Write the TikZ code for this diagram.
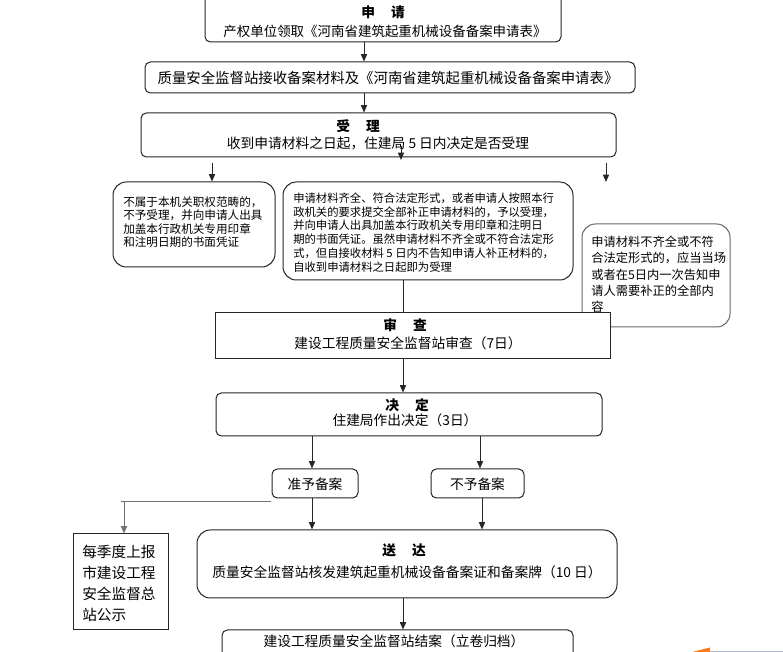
\documentclass[tikz,border=0pt]{standalone}
\usepackage{fontspec}
\setmainfont{Noto Sans CJK SC}
\usetikzlibrary{arrows.meta}
\tikzset{
  ln/.style={draw=black!85, line width=0.75pt},
  bx/.style={ln, fill=white, inner sep=0pt, rectangle},
  rb/.style={bx, rounded corners=4pt},
  rbig/.style={bx, rounded corners=10pt},
  arr/.style={ln, -{Triangle[length=5.5pt,width=4.6pt]}},
  gln/.style={draw=black!55, line width=0.75pt},
  garr/.style={gln, -{Triangle[length=5.5pt,width=4.6pt]}},
  txt/.style={inner sep=0pt, font=\fontsize{10.3}{12}\selectfont},
  ttl/.style={inner sep=0pt, font=\fontsize{10.3}{12}\selectfont\bfseries},
  para/.style={inner sep=0pt, anchor=west, align=left},
}
\begin{document}
\begin{tikzpicture}[x=0.75pt,y=-0.75pt]
\useasboundingbox (0,0) rectangle (783,652);
\clip (0,0) rectangle (783,652);
\fill[white] (0,0) rectangle (783,652);

% boxes
\node[rb, minimum width=267pt, minimum height=37.5pt] (b1) at (383,17) {};
\node[ttl] (t1a) at (383,12) {申\hspace{12pt}请};
\node[txt, font=\fontsize{10.1}{12}\selectfont] (t1b) at (385,31) {产权单位领取《河南省建筑起重机械设备备案申请表》};

\node[rb, minimum width=367.5pt, minimum height=23.25pt] (b2) at (390,77.5) {};
\node[txt, font=\fontsize{10.8}{12}\selectfont] (t2) at (388,78) {质量安全监督站接收备案材料及《河南省建筑起重机械设备备案申请表》};

\node[rb, minimum width=356.25pt, minimum height=33pt] (b3) at (378.5,135) {};
\node[ttl] (t3a) at (358,126) {受\hspace{12pt}理};
\node[txt] (t3b) at (378,143) {收到申请材料之日起，住建局 5 日内决定是否受理};

\node[rbig, minimum width=121.5pt, minimum height=63.75pt] (b4) at (194,224.5) {};
\node[para, font=\fontsize{8.7}{10}\selectfont] (t4) at (123,222) {不属于本机关职权范畴的，\\不予受理，并向申请人出具\\加盖本行政机关专用印章\\和注明日期的书面凭证};

\node[rbig, minimum width=217.5pt, minimum height=73.5pt] (b5) at (428,231) {};
\node[para, font=\fontsize{8.5}{10.35}\selectfont] (t5) at (293,232.5) {申请材料齐全、符合法定形式，或者申请人按照本行\\政机关的要求提交全部补正申请材料的，予以受理，\\并向申请人出具加盖本行政机关专用印章和注明日\\期的书面凭证。虽然申请材料不齐全或不符合法定形\\式，但自接收材料 5 日内不告知申请人补正材料的，\\自收到申请材料之日起即为受理};

\node[rbig, draw=black!60, minimum width=111pt, minimum height=77.25pt] (b6) at (656,275.5) {};
\node[para, font=\fontsize{9.2}{12.2}\selectfont] (t6) at (591,274.5) {申请材料不齐全或不符\\合法定形式的，应当当场\\或者在5日内一次告知申\\请人需要补正的全部内\\容};

\node[bx, minimum width=296.25pt, minimum height=34.5pt] (b7) at (412.5,336) {};
\node[ttl] (t7a) at (405,325) {审\hspace{12pt}查};
\node[txt] (t7b) at (408,343) {建设工程质量安全监督站审查（7日）};

\node[rb, minimum width=289.5pt, minimum height=32.25pt] (b8) at (409,414.5) {};
\node[ttl] (t8a) at (407,405) {决\hspace{12pt}定};
\node[txt] (t8b) at (405,420) {住建局作出决定（3日）};

\node[rb, minimum width=64.5pt, minimum height=21.75pt] (b9) at (315,483.5) {};
\node[txt] (t9) at (315,484) {准予备案};
\node[rb, minimum width=69.75pt, minimum height=21.75pt] (b10) at (477.5,483.5) {};
\node[txt] (t10) at (477.5,484) {不予备案};

\node[bx, minimum width=71.25pt, minimum height=72pt] (mq) at (120.5,582) {};
\node[para, font=\fontsize{11}{15.75}\selectfont] (tmq) at (82,583.5) {每季度上报\\市建设工程\\安全监督总\\站公示};

\node[rbig, minimum width=315pt, minimum height=51pt] (b11) at (407,564) {};
\node[ttl] (t11a) at (404,550) {送\hspace{12pt}达};
\node[txt] (t11b) at (407,572) {质量安全监督站核发建筑起重机械设备备案证和备案牌（10 日）};

\node[rb, minimum width=263.25pt, minimum height=30pt] (b12) at (397.5,650) {};
\node[txt] (t12) at (394,641) {建设工程质量安全监督站结案（立卷归档）};

% helper coordinates
\coordinate (x364) at (364,0);
\coordinate (x403) at (403,0);
\coordinate (x312) at (312,0);
\coordinate (x480) at (480,0);
\coordinate (x482) at (482,0);
\coordinate (ia) at (401,146);
\coordinate (ib) at (401,160);
\coordinate (la1) at (212,163);
\coordinate (ra1) at (606,163);
\coordinate (ra2) at (606,182);
\coordinate (lj) at (271,502);
\coordinate (lc) at (121,502);
\coordinate (la) at (124,502);

% connectors
\draw[arr] (x364 |- b1.south) -- (x364 |- b2.north);
\draw[arr] (x364 |- b2.south) -- (x364 |- b3.north);
\draw[arr] (ia) -- (ib);
\draw[arr] (la1) -- (la1 |- b4.north);
\draw[arr] (ra1) -- (ra2);
\draw[ln] (x403 |- b5.south) -- (x403 |- b7.north);
\draw[arr] (x403 |- b7.south) -- (x403 |- b8.north);
\draw[arr] (x312 |- b8.south) -- (x312 |- b9.north);
\draw[arr] (x480 |- b8.south) -- (x480 |- b10.north);
\draw[arr] (x312 |- b9.south) -- (x312 |- b11.north);
\draw[arr] (x482 |- b10.south) -- (x482 |- b11.north);
\draw[arr] (x403 |- b11.south) -- (x403 |- b12.north);
\draw[gln] (lj) -- (lc);
\draw[garr] (la) -- (la |- mq.north);

% corner fragment
\fill[orange!85!red!90] (692,652) -- (710,647.5) -- (710,652) -- cycle;
\draw[blue!15!gray!50, line width=0.75pt] (710,651.5) -- (783,651.5);
\end{tikzpicture}
\end{document}
